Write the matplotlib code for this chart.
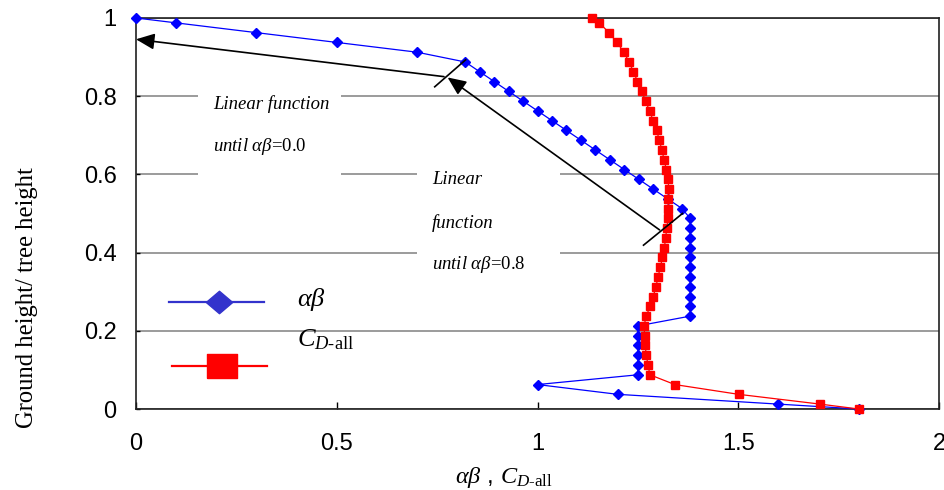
import matplotlib
matplotlib.use("Agg")
import matplotlib.pyplot as plt
from matplotlib.lines import Line2D
from matplotlib.patches import Rectangle

# datos
alturas = [1.0, 0.9875, 0.9625, 0.9375, 0.9125, 0.8875, 0.8625, 0.8375, 0.8125, 0.7875,
           0.7625, 0.7375, 0.7125, 0.6875, 0.6625, 0.6375, 0.6125, 0.5875, 0.5625, 0.5375,
           0.5125, 0.4875, 0.4625, 0.4375, 0.4125, 0.3875, 0.3625, 0.3375, 0.3125, 0.2875,
           0.2625, 0.2375, 0.2125, 0.1875, 0.1625, 0.1375, 0.1125, 0.0875, 0.0625, 0.0375,
           0.0125, 0.0]

alfa_beta = [0.0, 0.1, 0.3, 0.5, 0.7, 0.82, 0.856, 0.892, 0.928, 0.964,
             1.0, 1.036, 1.072, 1.108, 1.144, 1.18, 1.216, 1.252, 1.288, 1.324,
             1.36, 1.38, 1.38, 1.38, 1.38, 1.38, 1.38, 1.38, 1.38, 1.38,
             1.38, 1.38, 1.25, 1.25, 1.25, 1.25, 1.25, 1.25, 1.0, 1.2,
             1.6, 1.8]

cd_all = [1.136, 1.154, 1.178, 1.198, 1.215, 1.228, 1.239, 1.249, 1.26, 1.269,
          1.279, 1.288, 1.297, 1.303, 1.31, 1.315, 1.321, 1.325, 1.327, 1.326,
          1.326, 1.325, 1.322, 1.319, 1.316, 1.311, 1.306, 1.30, 1.295, 1.288,
          1.28, 1.271, 1.265, 1.267, 1.268, 1.271, 1.275, 1.28, 1.342, 1.501,
          1.704, 1.80]

x_ticks = [0, 0.5, 1, 1.5, 2]
x_tick_labels = ['0', '0.5', '1', '1.5', '2']
y_ticks = [0, 0.2, 0.4, 0.6, 0.8, 1]
y_tick_labels = ['0', '0.2', '0.4', '0.6', '0.8', '1']

# flechas y marcas de las anotaciones
flecha1 = [(0.767, 0.850), (0.0, 0.9455)]
marca1 = [(0.744, 0.824), (0.821, 0.893)]
flecha2 = [(1.304, 0.458), (0.776, 0.848)]
marca2 = [(1.264, 0.419), (1.361, 0.500)]

plt.rcParams['font.family'] = 'Liberation Sans'
plt.rcParams['mathtext.fontset'] = 'custom'
plt.rcParams['mathtext.rm'] = 'Liberation Serif'
plt.rcParams['mathtext.it'] = 'Liberation Serif:italic'
plt.rcParams['mathtext.bf'] = 'Liberation Serif:bold'

fig = plt.figure(figsize=(9.45, 4.9), dpi=100)
ax = fig.add_axes([0.1439, 0.1653, 0.8498, 0.798])

ax.set_xlim(0, 2)
ax.set_ylim(0, 1)

# lineas de rejilla horizontales
ax.set_axisbelow(True)
ax.yaxis.grid(True, color='#808080', lw=1.1, zorder=0)

# cajas blancas de los textos
ax.add_patch(Rectangle((0.155, 0.56), 0.355, 0.27, facecolor='white', edgecolor='none', zorder=1))
ax.add_patch(Rectangle((0.70, 0.30), 0.355, 0.32, facecolor='white', edgecolor='none', zorder=1))

ax.plot(alfa_beta, alturas, color='#0000FF', lw=0.9, marker='D', ms=5.5,
        mec='#0000FF', mfc='#0000FF', zorder=3, clip_on=False)
ax.plot(cd_all, alturas, color='#FF0000', lw=0.9, marker='s', ms=5.8,
        mec='#FF0000', mfc='#FF0000', zorder=4, clip_on=False)

# flechas
for fl in (flecha1, flecha2):
    ax.annotate('', xy=fl[1], xytext=fl[0],
                arrowprops=dict(arrowstyle='-|>,head_length=0.8,head_width=0.35',
                                mutation_scale=14, color='black', lw=1.2,
                                shrinkA=0, shrinkB=0), zorder=5)
for m in (marca1, marca2):
    ax.plot([m[0][0], m[1][0]], [m[0][1], m[1][1]], color='black', lw=1.2, zorder=5)

serif = 'Liberation Serif'
ax.text(0.192, 0.78, 'Linear function', fontsize=13.5, fontstyle='italic',
        family=serif, va='center', ha='left', zorder=6)
ax.text(0.192, 0.671, r'$\mathit{until}\ \alpha\beta$=0.0', fontsize=13.5,
        family=serif, va='center', ha='left', zorder=6)
ax.text(0.737, 0.586, 'Linear', fontsize=13.5, fontstyle='italic',
        family=serif, va='center', ha='left', zorder=6)
ax.text(0.737, 0.476, 'function', fontsize=13.5, fontstyle='italic',
        family=serif, va='center', ha='left', zorder=6)
ax.text(0.737, 0.37, r'$\mathit{until}\ \alpha\beta$=0.8', fontsize=13.5,
        family=serif, va='center', ha='left', zorder=6)

# leyenda dibujada a mano
diamante = [(-1, 0), (0, 0.85), (1, 0), (0, -0.85), (-1, 0)]
cuadro = [(-1, -0.83), (1, -0.83), (1, 0.83), (-1, 0.83), (-1, -0.83)]
ax.add_line(Line2D([0.0415, 0.16], [0.273, 0.273], color='#3333CC', lw=1.6,
                   transform=ax.transAxes, zorder=6))
ax.add_line(Line2D([0.1034], [0.273], marker=diamante, ms=19, color='#3333CC',
                   mec='#3333CC', transform=ax.transAxes, zorder=7))
ax.add_line(Line2D([0.0445, 0.163], [0.11, 0.11], color='#FF0000', lw=1.6,
                   transform=ax.transAxes, zorder=6))
ax.add_line(Line2D([0.1065], [0.11], marker=cuadro, ms=21, color='#FF0000',
                   mec='#FF0000', transform=ax.transAxes, zorder=7))
ax.text(0.2, 0.279, r'$\alpha\beta$', fontsize=19, transform=ax.transAxes,
        va='center', ha='left')
ax.text(0.2, 0.176, r'$C_{D\text{-all}}$', fontsize=19, transform=ax.transAxes,
        va='center', ha='left')

# ejes
ax.set_xticks(x_ticks)
ax.set_xticklabels(x_tick_labels)
ax.set_yticks(y_ticks)
ax.set_yticklabels(y_tick_labels)
ax.tick_params(axis='x', direction='in', length=5, width=1, labelsize=17, pad=17)
ax.tick_params(axis='y', direction='in', length=3, width=1, labelsize=17, pad=14)
for s in ax.spines.values():
    s.set_color('#202020')
    s.set_linewidth(1.2)

ax.set_xlabel(r'$\alpha\beta$ , $C_{D\text{-all}}$', fontsize=17.5)
ax.xaxis.set_label_coords(0.458, -0.143)
ax.set_ylabel('Ground height/ tree height', fontsize=17.7, family=serif)
ax.yaxis.set_label_coords(-0.122, 0.285)

fig.savefig('out.png', dpi=100)
